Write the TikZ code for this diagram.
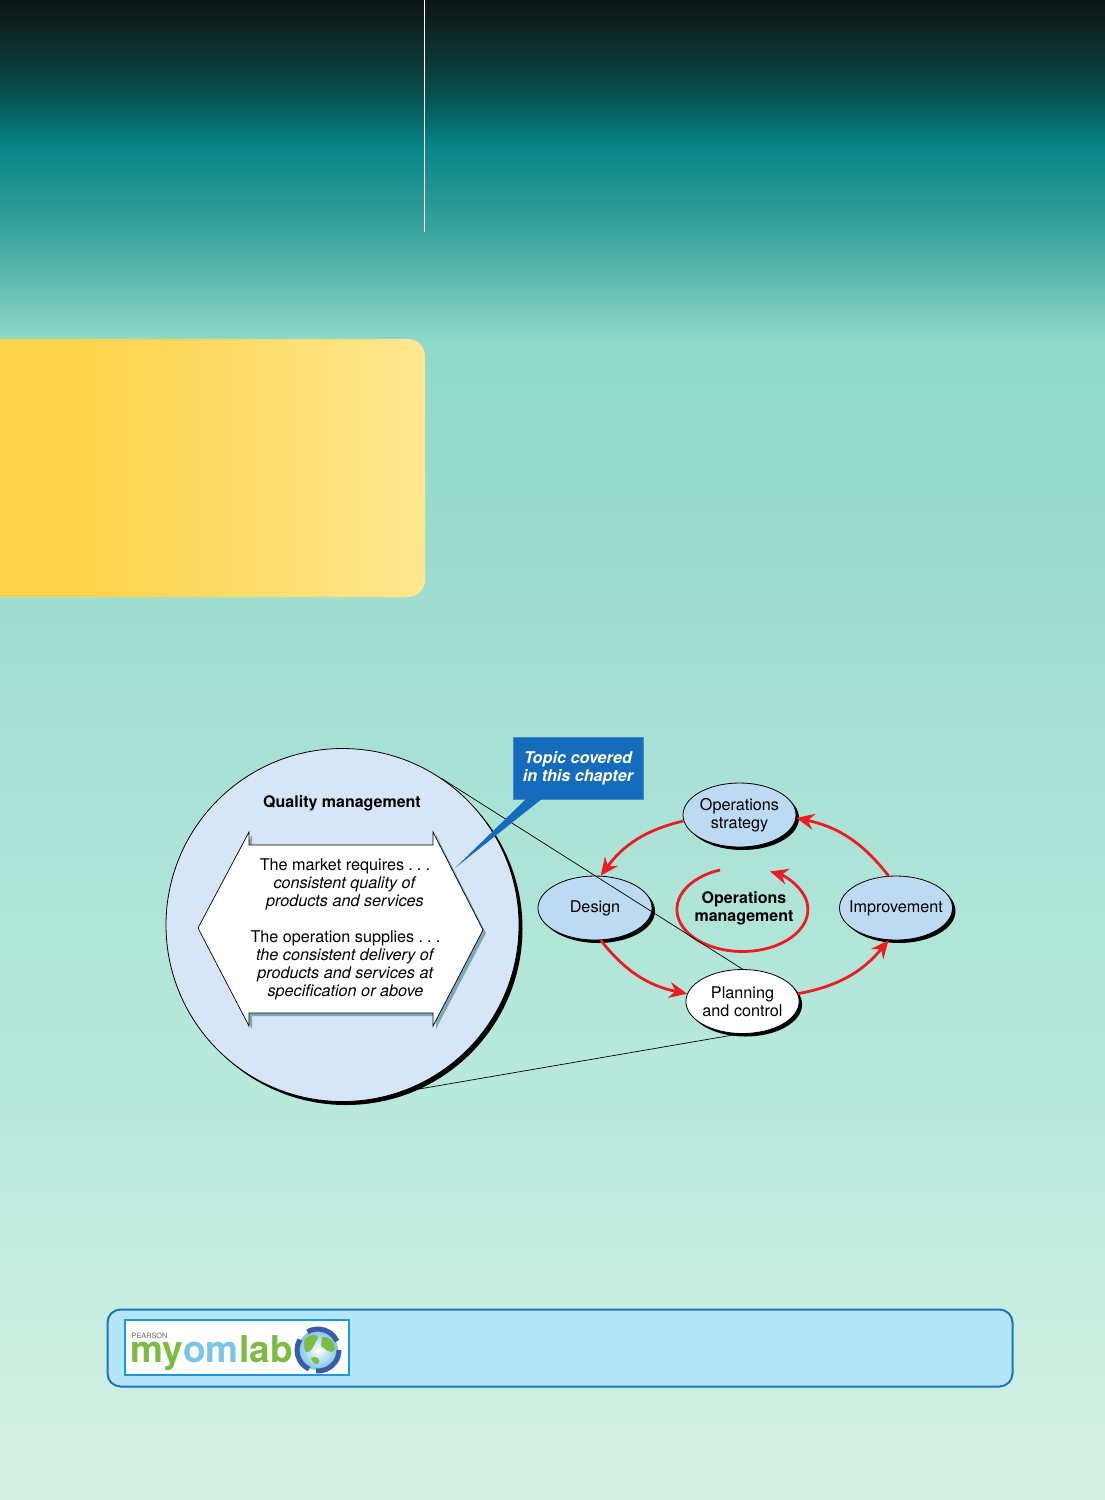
\documentclass[tikz,border=0pt]{standalone}
\usepackage{fontspec}
\setmainfont{TeX Gyre Heros}
\usetikzlibrary{arrows.meta,shadows,shapes.geometric}
\definecolor{circfill}{HTML}{D6E6F7}
\definecolor{ovalfill}{HTML}{BCDAF2}
\definecolor{hexshade}{HTML}{7FA6B8}
\definecolor{cyclered}{HTML}{ED1C24}
\definecolor{tagblue}{HTML}{166CBC}
\definecolor{labfill}{HTML}{B5E5F9}
\definecolor{labline}{HTML}{1A75BC}
\definecolor{logoline}{HTML}{1E96E0}
\definecolor{logogreen}{HTML}{7DBB42}
\definecolor{logoblue}{HTML}{7CC4E8}
\definecolor{globeblue}{HTML}{3B5BA5}
\definecolor{yellowA}{HTML}{FFD44B}
\definecolor{yellowB}{HTML}{FEE78F}
\definecolor{bgA}{HTML}{0C1414}
\definecolor{bgB}{HTML}{0F2523}
\definecolor{bgC}{HTML}{0B3E3C}
\definecolor{bgD}{HTML}{05605F}
\definecolor{bgE}{HTML}{088385}
\definecolor{bgF}{HTML}{3AA49E}
\definecolor{bgG}{HTML}{68BFB3}
\definecolor{bgH}{HTML}{8FD9C9}
\definecolor{bgI}{HTML}{A5E0D3}
\definecolor{bgJ}{HTML}{B9E9DC}
\definecolor{bgK}{HTML}{D5F1E3}
\newcommand{\threedots}{\hspace{4.2pt}.\hspace{4.2pt}.\hspace{4.2pt}.}
\tikzset{
  txt/.style = {align=center, inner sep=0pt, font=\fontsize{16.2}{18}\selectfont},
  boldtxt/.style = {txt, font=\fontsize{16}{18}\selectfont\bfseries},
  oval/.style = {txt, ellipse, draw=black, line width=0.8pt, fill=ovalfill, minimum width=113pt, minimum height=64pt,
    general shadow={shadow xshift=3pt, shadow yshift=-3pt, fill=black}},
  cycle/.style = {draw=cyclered, line width=2.8pt, -{Stealth[length=18pt,width=16pt,inset=6pt]}},
  thinline/.style = {draw=black, line width=0.7pt},
  logotxt/.style = {inner sep=0pt, anchor=base west, font=\fontsize{37}{37}\selectfont\bfseries}
}
\begin{document}
\begin{tikzpicture}[x=1pt,y=-1pt]
\useasboundingbox (0,0) rectangle (1105,1500);
\clip (0,0) rectangle (1105,1500);
% page background
\foreach \ya/\yb/\ca/\cb in {0/30/bgA/bgB, 30/70/bgB/bgC, 70/110/bgC/bgD, 110/145/bgD/bgE, 145/232/bgE/bgF,
    232/290/bgF/bgG, 290/340/bgG/bgH, 340/700/bgH/bgI, 700/1100/bgI/bgJ, 1100/1500/bgJ/bgK}
  \shade[top color=\ca, bottom color=\cb] (0,\ya-0.5) rectangle (1105,\yb+0.5);
\draw[white, line width=0.8pt] (424.5,0) -- (424.5,232);
\begin{scope}
\clip[rounded corners=17pt] (-30,339) rectangle (425,597);
\fill[yellowA] (-30,339) rectangle (86,597);
\shade[left color=yellowA, right color=yellowB] (85,339) rectangle (425,597);
\end{scope}

% enlarged circle
\node [circle, draw=black, line width=0.8pt, fill=circfill, minimum size=353pt, inner sep=0pt,
  general shadow={shadow xshift=3.5pt, shadow yshift=-3.5pt, fill=black}] (Zoom) at (342.5,925) {};
\node [boldtxt] (QM) at (342,803) {Quality management};
\fill[hexshade] (201,931) -- (252,835) -- (252,848) -- (436,848) -- (436,835) -- (486,933)
  -- (436,1029) -- (436,1016) -- (252,1016) -- (252,1029) -- cycle;
\filldraw[fill=white, draw=black, line width=0.7pt] (198,928) -- (249,832) -- (249,845) -- (433,845) -- (433,832) -- (483,930)
  -- (433,1026) -- (433,1013) -- (249,1013) -- (249,1026) -- cycle;
\node [txt] (Market) at (345,884) {The market requires\threedots\\ \textit{consistent quality of}\\ \textit{products and services}};
\node [txt] (Supply) at (345.5,965) {The operation supplies\threedots\\ \textit{the consistent delivery of}\\ \textit{products and services at}\\ \textit{specification or above}};

% operations model
\node [oval] (Strat) at (739.5,815) {Operations\\strategy};
\node [oval, minimum width=114pt] (Design) at (595,908) {Design};
\node [oval] (Improve) at (896,908) {\makebox[60pt]{Improvement}};
\node [oval, fill=white] (Plan) at (742.5,1001.5) {Planning\\and control};
\node [boldtxt] (OM) at (744,908) {Operations\\management};
\draw [cycle] (Strat.186) to[bend right=20] (Design.80);
\draw [cycle] (Design.-80) to[bend right=20] (Plan.172);
\draw [cycle] (Plan.8) to[bend right=20] (Improve.-103);
\draw [cycle] (Improve.103) to[bend right=20] (Strat.-3);
\draw [cycle] (720,870) arc[start angle=110, delta angle=315, x radius=65.5pt, y radius=42pt];
\draw [thinline] (Zoom.56) -- (Plan.north);
\draw [thinline] (Zoom.-71) -- (Plan.265);

% chapter tag
\node [boldtxt, fill=tagblue, draw=tagblue!80!white, minimum width=130pt, minimum height=62pt, text=white,
  font=\fontsize{16.2}{18}\selectfont\bfseries\itshape] (Topic) at (578,768) {\raisebox{-1pt}{Topic covered}\\\raisebox{-1pt}{in this chapter}};
\coordinate (TagTip) at (455,868);
\fill[tagblue] (527,798) -- (543,798) -- (TagTip) -- cycle;

% lab strip
\node [draw=labline, line width=2pt, fill=labfill, rounded corners=13pt, minimum width=905pt, minimum height=77pt, inner sep=0pt] (Strip) at (560,1348) {};
\node [draw=logoline, line width=2pt, fill=white, minimum width=224pt, minimum height=55pt, inner sep=0pt] (Logo) at (236.5,1347) {};
\node [inner sep=0pt, text=gray!80!black, font=\fontsize{7.3}{8}\selectfont] (Pearson) at (149.5,1335.5) {PEARSON};
\node [logotxt, text=logogreen] (My) at (130,1362) {my};
\node [logotxt, text=logoblue] (Om) at (My.base east) {om};
\node [logotxt, text=logogreen] (Lab) at (Om.base east) {lab};
\node [circle, minimum size=40pt, inner sep=0pt, inner color=white, outer color=logoblue] (Globe) at (318,1350) {};
\fill[logogreen] (305,1339) .. controls (312,1332) and (322,1335) .. (316,1341) .. controls (314,1347) and (309,1354) .. (306,1352) .. controls (304,1348) and (303,1344) .. (305,1339) -- cycle;
\fill[logogreen] (322,1337) .. controls (330,1336) and (335,1342) .. (335,1349) .. controls (331,1356) and (326,1349) .. (321,1346) -- cycle;
\fill[logogreen] (311,1358) .. controls (316,1355) and (321,1359) .. (319,1363) .. controls (316,1366) and (312,1362) .. (311,1358) -- cycle;
\foreach \ang in {25,150,265}
  \draw[globeblue, line width=5pt] (Globe.center) ++(\ang:21pt) arc[start angle=\ang, delta angle=95, radius=21pt];
\end{tikzpicture}
\end{document}
